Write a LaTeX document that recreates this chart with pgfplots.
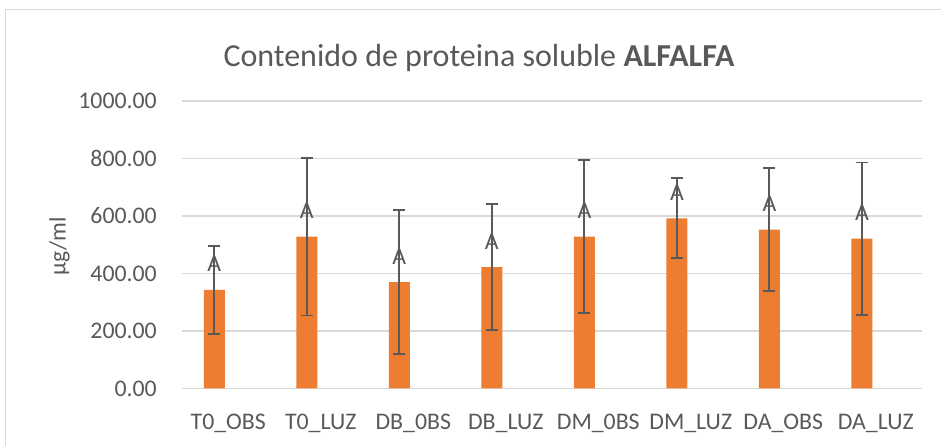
\documentclass[border=0pt]{standalone}
\usepackage{pgfplots}
\pgfplotsset{compat=1.18}
\usepackage{fontspec}
\setmainfont{Carlito}
\definecolor{barorange}{HTML}{ED7D31}
\definecolor{txtgray}{HTML}{595959}
\definecolor{gridgray}{HTML}{D9D9D9}
\begin{document}
\begin{tikzpicture}[x=1bp,y=1bp]
\useasboundingbox (0,0) rectangle (941,446);
\draw[gridgray, line width=1.5bp] (5.5,0) -- (5.5,436.5) -- (941,436.5);
\node[txtgray, anchor=base, inner sep=0pt] at (479,379.5) {\fontsize{32bp}{38bp}\selectfont Contenido de proteina soluble \textbf{ALFALFA}};
\node[txtgray, rotate=90, inner sep=0pt] at (59.5,200) {\fontsize{23.5bp}{28bp}\selectfont µg/ml};
\begin{axis}[
  at={(182bp,57.5bp)}, anchor=south west,
  scale only axis, width=740bp, height=287.5bp,
  ymin=0, ymax=1000, xmin=-0.5, xmax=7.5,
  axis line style={draw=none},
  major tick length=0pt,
  ymajorgrids, grid style={gridgray, line width=1.5bp},
  ytick={0,200,...,1000},
  xtick={0,...,7},
  xticklabels={T0\_OBS, T0\_LUZ, DB\_0BS, DB\_LUZ, DM\_0BS, DM\_LUZ, DA\_OBS, DA\_LUZ},
  /pgf/number format/fixed,
  /pgf/number format/fixed zerofill,
  /pgf/number format/precision=2,
  /pgf/number format/1000 sep={},
  /pgf/number format/assume math mode=true,
  y tick label style={txtgray, font=\fontsize{23.8bp}{28bp}\selectfont, inner sep=0pt, xshift=-25bp},
  x tick label style={txtgray, font=\fontsize{23.8bp}{28bp}\selectfont, inner sep=0pt, anchor=north, yshift=-25.5bp},
  clip=false,
]
\addplot[ybar, fill=barorange, draw=none, bar width=21bp, bar shift=0pt,
  nodes near coords={A},
  every node near coord/.append style={txtgray, font=\fontsize{23.8bp}{28bp}\selectfont, anchor=base, inner sep=0pt, yshift=18bp},
  error bars/.cd, y dir=both, y explicit,
  error bar style={txtgray, line width=1.8bp},
  error mark options={txtgray, line width=1.8bp, mark size=6bp, rotate=90}]
coordinates {
(-0.15,343) +- (0,154)
(0.85,528) +- (0,274)
(1.85,370) +- (0,250)
(2.85,422) +- (0,219)
(3.85,528) +- (0,266)
(4.85,592) +- (0,139)
(5.85,553) +- (0,213)
(6.85,521) +- (0,265)
};
\end{axis}
\end{tikzpicture}
\end{document}
